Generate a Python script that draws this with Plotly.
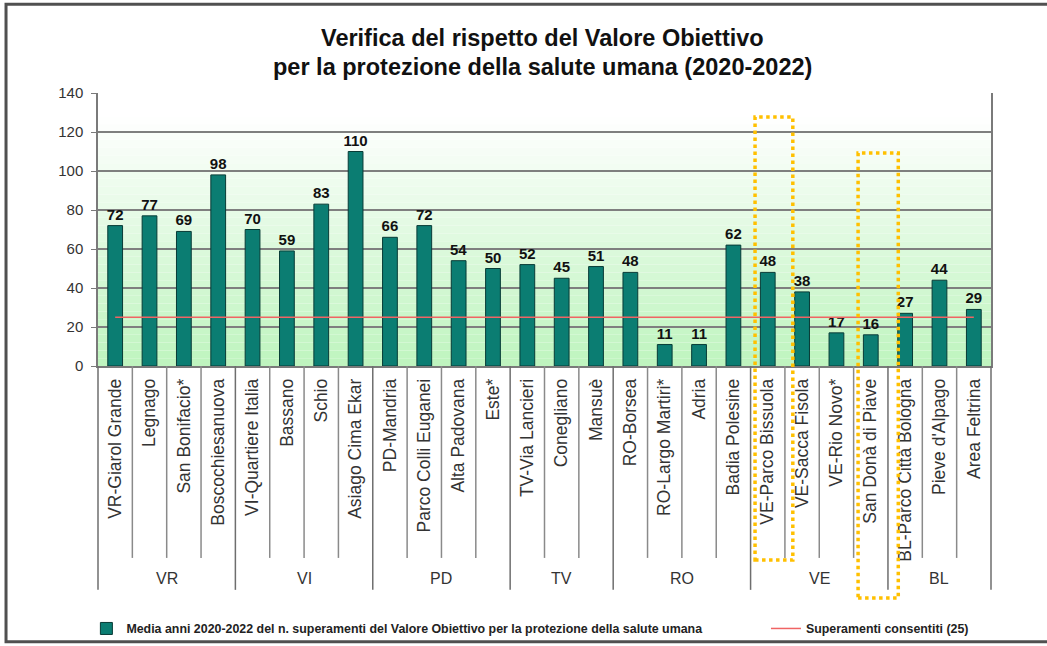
import plotly.graph_objects as go

stations = ["VR-Giarol Grande", "Legnago", "San Bonifacio*", "Boscochiesanuova",
            "VI-Quartiere Italia", "Bassano", "Schio", "Asiago Cima Ekar",
            "PD-Mandria", "Parco Colli Euganei", "Alta Padovana", "Este*",
            "TV-Via Lancieri", "Conegliano", "Mansuè",
            "RO-Borsea", "RO-Largo Martiri*", "Adria", "Badia Polesine",
            "VE-Parco Bissuola", "VE-Sacca Fisola", "VE-Rio Novo*", "San Donà di Piave",
            "BL-Parco Città Bologna", "Pieve d'Alpago", "Area Feltrina"]
values = [72, 77, 69, 98, 70, 59, 83, 110, 66, 72, 54, 50, 52, 45, 51,
          48, 11, 11, 62, 48, 38, 17, 16, 27, 44, 29]
groups = ["VR", "VI", "PD", "TV", "RO", "VE", "BL"]
group_sizes = [4, 4, 4, 3, 4, 4, 3]
threshold = 25
highlighted = ["VE-Parco Bissuola", "San Donà di Piave"]

title_l1 = "Verifica del rispetto del Valore Obiettivo"
title_l2 = "per la protezione della salute umana (2020-2022)"
bar_name = "Media anni 2020-2022 del n. superamenti del Valore Obiettivo per la protezione della salute umana"
line_name = "Superamenti consentiti (25)"

FONT = "Liberation Sans, Arial, sans-serif"

fig = go.Figure()
fig.add_trace(go.Bar(
    x=stations, y=values, name=bar_name, legend="legend",
    marker=dict(color="#0b7d72", line=dict(color="#083b36", width=1)),
    width=0.43,
    text=values, textposition="outside", cliponaxis=False, constraintext="none",
    textfont=dict(family=FONT, size=15, color="#111111", weight="bold"),
))
fig.add_trace(go.Scatter(
    x=stations, y=[threshold] * len(stations), name=line_name, legend="legend2",
    mode="lines", line=dict(color="#f06464", width=1.5),
))

shapes = []
# gradient background
n = 35
top_c = (255, 255, 255)
bot_c = (190, 244, 190)
for i in range(n):
    y0 = 140 * i / n
    y1 = 140 * (i + 1) / n
    t = min(1.0, ((y0 + y1) / 2) / 128.0)
    c = tuple(int(round(bot_c[k] + (top_c[k] - bot_c[k]) * t)) for k in range(3))
    shapes.append(dict(type="rect", xref="paper", yref="y", x0=0, x1=1, y0=y0, y1=y1,
                       fillcolor="rgb(%d,%d,%d)" % c, line=dict(width=0), layer="below"))

# category dividers below axis
pos = 0
group_bounds = [0]
for s in group_sizes:
    pos += s
    group_bounds.append(pos)
for i in range(1, len(stations)):
    if i in group_bounds:
        continue
    shapes.append(dict(type="line", xref="x", yref="paper", x0=i - 0.5, x1=i - 0.5,
                       y0=0, y1=-0.703, line=dict(color="#8a8a8a", width=1.5)))
for b in group_bounds:
    if b == 0:
        xr, xv = "paper", 0
    elif b == len(stations):
        xr, xv = "paper", 1
    else:
        xr, xv = "x", b - 0.5
    shapes.append(dict(type="line", xref=xr, yref="paper", x0=xv, x1=xv,
                       y0=0, y1=-0.82, line=dict(color="#6e6e6e", width=1.5)))

# highlight boxes (dotted orange)
idx1 = stations.index(highlighted[0])
idx2 = stations.index(highlighted[1])
shapes.append(dict(type="rect", xref="x", yref="paper", x0=idx1 - 0.37, x1=idx1 + 0.73,
                   y0=-0.711, y1=0.912, line=dict(color="#ffc000", width=3.5, dash="dot")))
shapes.append(dict(type="rect", xref="x", yref="paper", x0=idx2 - 0.37, x1=idx2 + 0.80,
                   y0=-0.85, y1=0.78, line=dict(color="#ffc000", width=3.5, dash="dot")))

# outer frame
shapes.append(dict(type="rect", xref="paper", yref="paper", x0=-0.103, x1=1.2,
                   y0=-1.01, y1=1.325, line=dict(color="#505050", width=3)))

annotations = []
start = 0
for g, s in zip(groups, group_sizes):
    center = start + (s - 1) / 2
    annotations.append(dict(x=center, y=-0.777, xref="x", yref="paper", text=g,
                            xanchor="center", yanchor="middle",
                            showarrow=False, font=dict(family=FONT, size=16, color="#333333")))
    start += s
annotations.append(dict(x=0.498, y=1.2, xref="paper", yref="paper", xanchor="center",
                        yanchor="middle", text="<b>" + title_l1 + "</b>", showarrow=False,
                        font=dict(family=FONT, size=23.5, color="#111111")))
annotations.append(dict(x=0.498, y=1.095, xref="paper", yref="paper", xanchor="center",
                        yanchor="middle", text="<b>" + title_l2 + "</b>", showarrow=False,
                        font=dict(family=FONT, size=23.5, color="#111111")))

legend_font = dict(family=FONT, size=12.4, color="#222222", weight="bold")
fig.update_layout(
    width=1047, height=646,
    margin=dict(l=98, r=56, t=93, b=280, autoexpand=False),
    paper_bgcolor="white", plot_bgcolor="white",
    font=dict(family=FONT, color="#333333"),
    shapes=shapes, annotations=annotations,
    showlegend=True,
    legend=dict(orientation="h", x=-0.013, xanchor="left", y=-0.963, yanchor="middle",
                font=legend_font, bgcolor="rgba(0,0,0,0)"),
    legend2=dict(orientation="h", x=0.748, xanchor="left", y=-0.963, yanchor="middle",
                 font=legend_font, bgcolor="rgba(0,0,0,0)"),
)
fig.update_xaxes(type="category", tickangle=-90, ticks="", showgrid=False,
                 showline=True, linecolor="#7a7a7a", linewidth=1.5, automargin=False,
                 ticklabelstandoff=4,
                 tickfont=dict(family=FONT, size=17.5, color="#333333"))
fig.update_yaxes(range=[0, 140], dtick=20, showgrid=True, gridcolor="#7f7f7f", gridwidth=1.5,
                 showline=True, linecolor="#7a7a7a", linewidth=1.5, mirror=True,
                 ticks="outside", ticklen=5, tickcolor="#7a7a7a", automargin=False,
                 ticklabelstandoff=5, zeroline=False,
                 tickfont=dict(family=FONT, size=15, color="#333333"))

fig.write_html("out.html", config={"displayModeBar": False},
               post_script="document.body.style.margin='0';")
